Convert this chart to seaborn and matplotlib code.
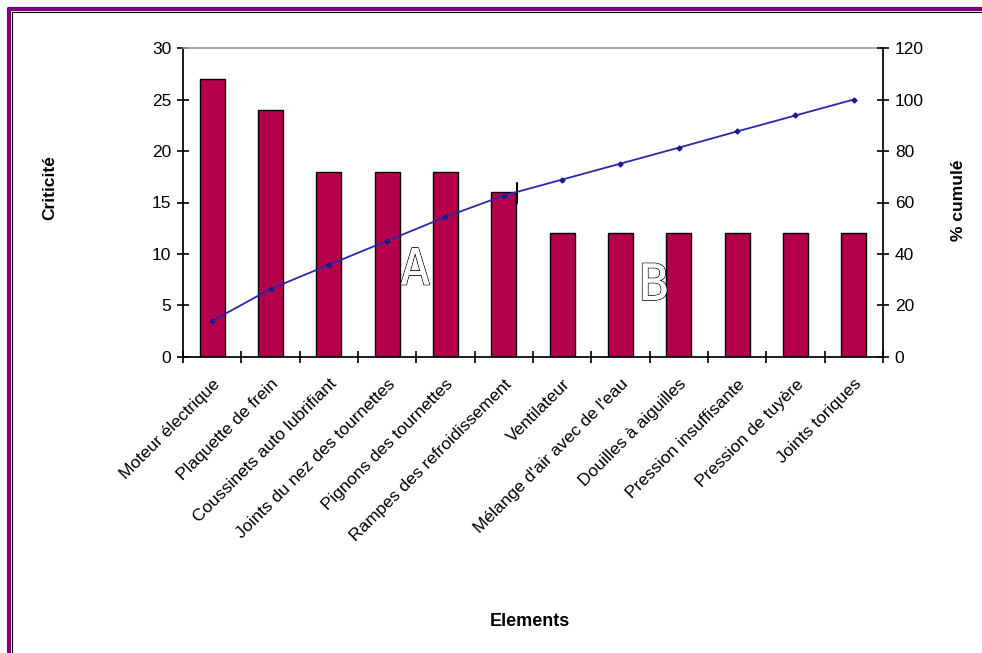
import matplotlib
matplotlib.use("Agg")
import matplotlib.pyplot as plt
import matplotlib.patheffects as pe
from matplotlib.lines import Line2D
import seaborn as sns
import pandas as pd

categories = ["Moteur électrique", "Plaquette de frein", "Coussinets auto lubrifiant",
              "Joints du nez des tournettes", "Pignons des tournettes",
              "Rampes des refroidissement", "Ventilateur", "Mélange d'air avec de l'eau",
              "Douilles à aiguilles", "Pression insuffisante", "Pression de tuyère",
              "Joints toriques"]
criticite = [27, 24, 18, 18, 18, 16, 12, 12, 12, 12, 12, 12]
cumul_pct = [14.0, 26.4, 35.8, 45.1, 54.4, 62.7, 68.9, 75.1, 81.3, 87.6, 93.8, 100.0]
left_ticks = [0, 5, 10, 15, 20, 25, 30]
right_ticks = [0, 20, 40, 60, 80, 100, 120]

sns.set_theme(style="white")
plt.rcParams['font.family'] = ['Liberation Sans', 'DejaVu Sans']
plt.rcParams['text.color'] = 'black'
plt.rcParams['axes.labelcolor'] = 'black'
plt.rcParams['xtick.color'] = 'black'
plt.rcParams['ytick.color'] = 'black'

df = pd.DataFrame({"Elements": categories, "Criticité": criticite, "cumul": cumul_pct})

fig = plt.figure(figsize=(9.82, 6.53), dpi=100)
ax = fig.add_axes([183/982, 1-357/653, 700/982, 309/653])

sns.barplot(data=df, x="Elements", y="Criticité", order=categories, color="#B4004B",
            saturation=1, width=0.43, edgecolor="black", linewidth=1.0, ax=ax)
ax.set_xlim(-0.5, len(categories)-0.5)
ax.set_ylim(0, 30)
ax.set_yticks(left_ticks)

ax2 = ax.twinx()
ax2.plot(range(len(categories)), df["cumul"], color="#2828A8", lw=1.3,
         marker="D", ms=2.5, mec="#1a1a90", mfc="#1a1a90")
ax2.set_ylim(0, 120)
ax2.set_yticks(right_ticks)

for a in (ax, ax2):
    a.grid(False)
    for s in a.spines.values():
        s.set_visible(False)
ax.spines['left'].set_visible(True)
ax.spines['left'].set_color('black')
ax.spines['bottom'].set_visible(True)
ax.spines['bottom'].set_color('black')
ax2.spines['right'].set_visible(True)
ax2.spines['right'].set_color('black')
ax.spines['top'].set_visible(True)
ax.spines['top'].set_color('#9a9a9a')
ax.spines['top'].set_linewidth(1.2)

ax.tick_params(axis='y', direction='inout', length=9, width=1.2, labelsize=12.5,
               left=True, pad=4, colors='black')
ax2.tick_params(axis='y', direction='inout', length=9, width=1.2, labelsize=12.5,
                right=True, pad=4, colors='black')

ax.set_xticks(range(len(categories)))
ax.set_xticklabels(categories, rotation=45, ha='right', rotation_mode='anchor', fontsize=12.5)
ax.tick_params(axis='x', which='major', length=0, pad=14, colors='black')
ax.set_xticks([i + 0.5 for i in range(-1, len(categories))], minor=True)
ax.tick_params(axis='x', which='minor', direction='inout', length=9, width=1.2, bottom=True)

ax.set_xlabel("Elements", fontsize=13, fontweight='bold')
ax.xaxis.set_label_coords((530-183)/700, (357-613)/309)
ax.set_ylabel("Criticité", fontsize=12.5, fontweight='bold')
ax.yaxis.set_label_coords((57-183)/700, (357-188)/309)
ax2.set_ylabel("% cumulé", fontsize=12.5, fontweight='bold', rotation=90)
ax2.yaxis.set_label_coords((951-183)/700, (357-200)/309)

# hand-drawn marks in the plot
for letter, xi, yv in [("A", 3.48, 8.4), ("B", 7.57, 6.9)]:
    ax.text(xi, yv, letter, fontsize=36, color='white', ha='center', va='center',
            family='DejaVu Sans Mono', fontweight='light',
            path_effects=[pe.withStroke(linewidth=1.2, foreground='black'),
                          pe.Normal()])
ax.plot([5.22, 5.22], [15.0, 16.9], color='black', lw=1.5)

# purple frame (left and top)
fig.add_artist(Line2D([9/982, 9/982], [0, 1-9/653], transform=fig.transFigure,
                      color='#7F007F', lw=3))
fig.add_artist(Line2D([9/982, 1], [1-9/653, 1-9/653], transform=fig.transFigure,
                      color='#7F007F', lw=3))
fig.add_artist(Line2D([12/982, 12/982], [0, 1-12/653], transform=fig.transFigure,
                      color='black', lw=0.8))
fig.add_artist(Line2D([12/982, 1], [1-12/653, 1-12/653], transform=fig.transFigure,
                      color='black', lw=0.8))

fig.savefig("out.png", dpi=100, facecolor='white')
